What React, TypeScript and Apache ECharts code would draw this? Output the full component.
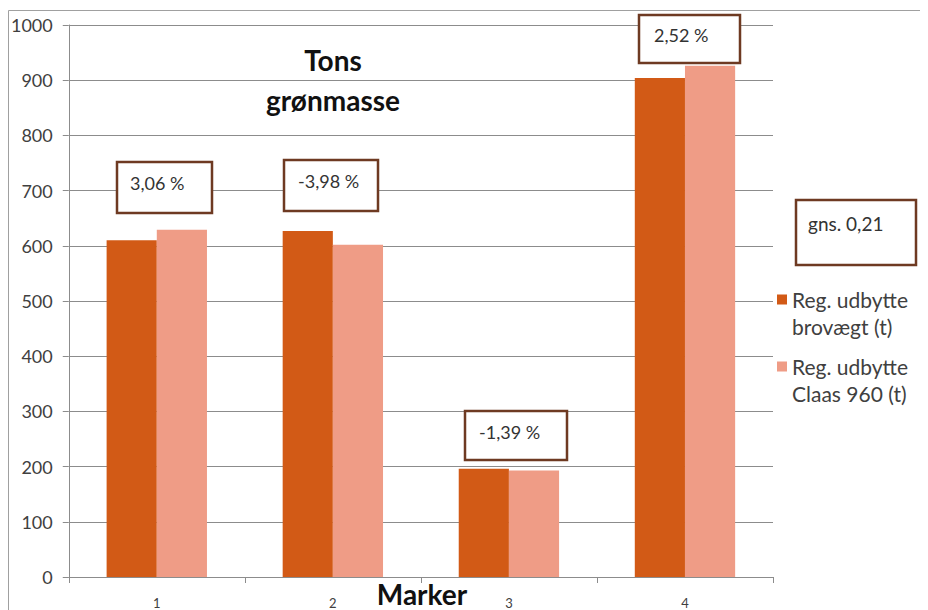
import React, { useEffect, useRef } from "react";
import * as echarts from "echarts";

const categories = ["1", "2", "3", "4"];
const seriesNames = ["Reg. udbytte\nbrovægt (t)", "Reg. udbytte\nClaas 960 (t)"];
const brovaegt = [610, 627, 196, 904];
const claas = [629, 602, 193, 926];
const yTicks = { min: 0, max: 1000, interval: 100 };
const diffLabels = ["3,06 %", "-3,98 %", "-1,39 %", "2,52 %"];
const avgLabel = "gns. 0,21";
const titleText = "Tons\ngrønmasse";
const xName = "Marker";

const FONT = "Lato, 'Open Sans', sans-serif";
const BOX = "#6E3A22";
const LEGEND_ICON = "path://M0,0L10,0L10,10L0,10Z M0,37L10,37";

export default function App() {
  const ref = useRef<HTMLDivElement>(null);
  useEffect(() => {
    if (!ref.current) return;
    const chart = echarts.init(ref.current, undefined, { renderer: "svg" });
    const boxes = [
      { x: 109, y: 154, w: 95, h: 51, tx: 122, ty: 175 },
      { x: 276, y: 152, w: 94, h: 51, tx: 290, ty: 173 },
      { x: 457, y: 403, w: 102, h: 49, tx: 471, ty: 424 },
      { x: 631, y: 7, w: 101, h: 48, tx: 646, ty: 27 },
    ];
    const graphics: any[] = [
      {
        type: "rect",
        z: -10,
        silent: true,
        shape: { x: 0.5, y: 2.5, width: 1000, height: 700 },
        style: { fill: "none", stroke: "#a0a0a0", lineWidth: 1 },
      },
    ];
    boxes.forEach((b, i) => {
      graphics.push({
        type: "rect",
        z: 10,
        shape: { x: b.x, y: b.y, width: b.w, height: b.h },
        style: { fill: "#fff", stroke: BOX, lineWidth: 2.5 },
      });
      graphics.push({
        type: "text",
        z: 11,
        x: b.tx,
        y: b.ty,
        style: {
          text: diffLabels[i],
          font: `18px ${FONT}`,
          fill: "#333",
          verticalAlign: "middle",
        },
      });
    });
    graphics.push({
      type: "rect",
      z: 10,
      shape: { x: 788, y: 192, width: 120, height: 65 },
      style: { fill: "#fff", stroke: BOX, lineWidth: 2.5 },
    });
    graphics.push({
      type: "text",
      z: 11,
      x: 800,
      y: 215,
      style: { text: avgLabel, font: `19px ${FONT}`, fill: "#333", verticalAlign: "middle" },
    });
    graphics.push({
      type: "text",
      z: 11,
      x: 325,
      y: 72,
      style: {
        text: titleText,
        font: `bold 28px ${FONT}`,
        lineHeight: 40,
        fill: "#111",
        align: "center",
        verticalAlign: "middle",
      },
    });
    graphics.push({
      type: "text",
      z: 11,
      x: 414,
      y: 586,
      style: {
        text: xName,
        font: `bold 28px ${FONT}`,
        fill: "#111",
        align: "center",
        verticalAlign: "middle",
      },
    });

    chart.setOption({
      animation: false,
      grid: { left: 59, top: 17, right: 155, bottom: 33, containLabel: false },
      legend: {
        orient: "vertical",
        left: 769,
        top: 278,
        padding: 0,
        itemGap: 13,
        itemWidth: 10,
        itemHeight: 37,
        icon: LEGEND_ICON,
        selectedMode: false,
        itemStyle: { borderWidth: 0 },
        textStyle: {
          fontFamily: FONT,
          fontSize: 21,
          color: "#404040",
          lineHeight: 27,
        },
        data: seriesNames,
      },
      xAxis: {
        type: "category",
        data: categories,
        axisLine: { lineStyle: { color: "#8c8c8c" } },
        axisTick: { show: true, length: 6, lineStyle: { color: "#8c8c8c" } },
        axisLabel: { fontFamily: FONT, fontSize: 13, color: "#404040", margin: 19 },
      },
      yAxis: {
        type: "value",
        min: yTicks.min,
        max: yTicks.max,
        interval: yTicks.interval,
        axisLine: { show: true, lineStyle: { color: "#8c8c8c" } },
        axisTick: { show: true, length: 6, lineStyle: { color: "#8c8c8c" } },
        axisLabel: {
          fontFamily: FONT,
          fontSize: 18,
          color: "#404040",
          margin: 16,
          formatter: (v: number) => String(v),
        },
        splitLine: { lineStyle: { color: "#8c8c8c" } },
      },
      series: [
        {
          name: seriesNames[0],
          type: "bar",
          data: brovaegt,
          barGap: "0%",
          barCategoryGap: "43%",
          itemStyle: { color: "#D25A16" },
        },
        {
          name: seriesNames[1],
          type: "bar",
          data: claas,
          barGap: "0%",
          barCategoryGap: "43%",
          itemStyle: { color: "#EF9C86" },
        },
      ],
      graphic: graphics,
    });
    return () => chart.dispose();
  }, []);
  return <div ref={ref} style={{ width: 920, height: 602 }} />;
}
